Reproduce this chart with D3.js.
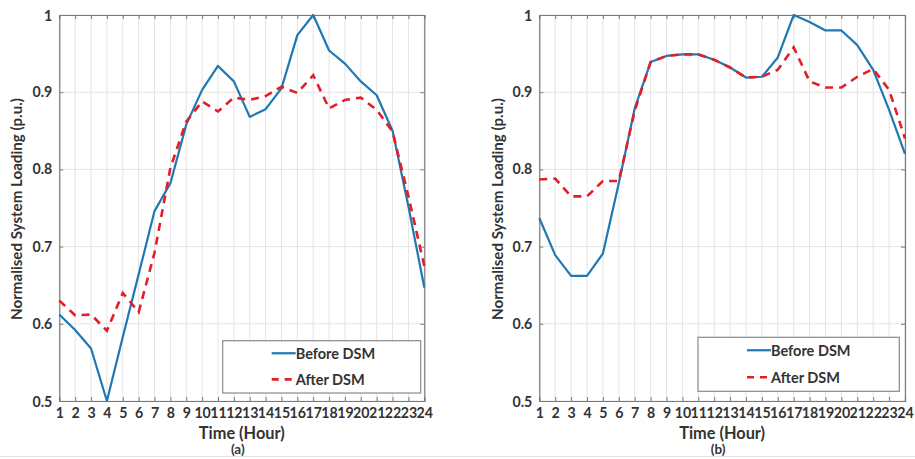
<!DOCTYPE html>
<html>
<head>
<meta charset="utf-8">
<script src="https://cdn.jsdelivr.net/npm/d3@7"></script>
<style>
  body { margin: 0; background: #fff; }
  svg { display: block; font-family: Lato, "Open Sans", sans-serif; }
</style>
</head>
<body>
<svg id="chart" width="915" height="459"></svg>
<script>
// Data
const hours = d3.range(1, 25);
const yTicks = [0.5, 0.6, 0.7, 0.8, 0.9, 1];
const seriesNames = ["Before DSM", "After DSM"];

const beforeA = [0.612, 0.592, 0.568, 0.500, 0.583, 0.664, 0.746, 0.782, 0.858, 0.903, 0.934, 0.914,
  0.868, 0.878, 0.905, 0.974, 1.000, 0.954, 0.937, 0.914, 0.896, 0.850, 0.752, 0.647];
const afterA = [0.630, 0.611, 0.612, 0.591, 0.640, 0.615, 0.692, 0.802, 0.862, 0.888, 0.875, 0.893,
  0.890, 0.895, 0.907, 0.899, 0.922, 0.879, 0.890, 0.893, 0.877, 0.849, 0.765, 0.675];
const beforeB = [0.737, 0.689, 0.662, 0.662, 0.691, 0.782, 0.879, 0.939, 0.947, 0.949, 0.949, 0.942,
  0.932, 0.919, 0.920, 0.945, 1.000, 0.991, 0.980, 0.980, 0.961, 0.929, 0.877, 0.820];
const afterB = [0.787, 0.788, 0.765, 0.765, 0.785, 0.785, 0.876, 0.939, 0.947, 0.949, 0.949, 0.942,
  0.932, 0.919, 0.920, 0.929, 0.958, 0.914, 0.906, 0.906, 0.920, 0.930, 0.903, 0.840];

const panels = [
  { tag: "(a)", before: beforeA, after: afterA, x0: 59.3, x1: 424.3, labelX: 16,
    legend: { x: 222.7, y: 340.7, w: 198, h: 52.3 } },
  { tag: "(b)", before: beforeB, after: afterB, x0: 539.3, x1: 905, labelX: 497,
    legend: { x: 698, y: 337.3, w: 201.3, h: 54 } }
];

const plotTop = 15, plotBottom = 401;
const blue = "#1f78b4", red = "#e31e26";
const axisColor = "#7a7a7a", gridColor = "#e4e4e4", textColor = "#333";

const svg = d3.select("#chart");

// scale a text's font size so its width matches the one
function fitText(sel, width) {
  const len = sel.node().getComputedTextLength();
  const fs = parseFloat(sel.attr("font-size"));
  sel.attr("font-size", fs * width / len);
}

// faint figure border at the bottom
svg.append("line")
  .attr("x1", 0).attr("x2", 915).attr("y1", 456.5).attr("y2", 456.5)
  .attr("stroke", "#e2e2e2").attr("stroke-width", 1);

panels.forEach(p => {
  const x = d3.scaleLinear().domain([1, 24]).range([p.x0, p.x1]);
  const y = d3.scaleLinear().domain([0.5, 1]).range([plotBottom, plotTop]);
  const g = svg.append("g");

  // grid
  g.selectAll(".vgrid").data(hours).enter().append("line")
    .attr("x1", d => x(d)).attr("x2", d => x(d))
    .attr("y1", plotTop).attr("y2", plotBottom)
    .attr("stroke", gridColor).attr("stroke-width", 1);
  g.selectAll(".hgrid").data(yTicks).enter().append("line")
    .attr("x1", p.x0).attr("x2", p.x1)
    .attr("y1", d => y(d)).attr("y2", d => y(d))
    .attr("stroke", gridColor).attr("stroke-width", 1);

  // axes (inward ticks, boxed)
  const xb = g.append("g").attr("transform", `translate(0,${plotBottom})`)
    .call(d3.axisBottom(x).tickValues(hours).tickSize(-4).tickPadding(7).tickFormat(d3.format("d")));
  const xt = g.append("g").attr("transform", `translate(0,${plotTop})`)
    .call(d3.axisTop(x).tickValues(hours).tickSize(-4).tickFormat(""));
  const yl = g.append("g").attr("transform", `translate(${p.x0},0)`)
    .call(d3.axisLeft(y).tickValues(yTicks).tickSize(-4).tickPadding(7)
      .tickFormat(d => d === 1 || d === 0.5 ? d3.format("")(d) : d3.format(".1f")(d)));
  const yr = g.append("g").attr("transform", `translate(${p.x1},0)`)
    .call(d3.axisRight(y).tickValues(yTicks).tickSize(-4).tickFormat(""));

  [xb, xt, yl, yr].forEach(a => {
    a.select(".domain").attr("stroke", axisColor).attr("stroke-width", 1.2);
    a.selectAll(".tick line").attr("stroke", axisColor);
    a.selectAll("text").attr("fill", textColor).attr("font-size", 14.2)
      .attr("font-weight", 700).attr("font-family", "Lato, sans-serif");
  });
  yl.selectAll(".tick text").filter(d => d === 0.5 || d === 1).attr("dy", "0.36em");

  // lines
  const line = d3.line().x((d, i) => x(hours[i])).y(d => y(d));
  g.append("path").datum(p.before)
    .attr("d", line).attr("fill", "none")
    .attr("stroke", blue).attr("stroke-width", 2.2).attr("stroke-linejoin", "round");
  g.append("path").datum(p.after)
    .attr("d", line).attr("fill", "none")
    .attr("stroke", red).attr("stroke-width", 2.6)
    .attr("stroke-dasharray", "8,6");

  // axis titles
  const yTitle = g.append("text")
    .attr("transform", `translate(${p.labelX},209) rotate(-90)`)
    .attr("text-anchor", "middle").attr("dominant-baseline", "central")
    .attr("font-size", 14).attr("font-weight", 700).attr("fill", textColor)
    .text("Normalised System Loading (p.u.)");
  fitText(yTitle, 222);
  const xTitle = g.append("text")
    .attr("x", (p.x0 + p.x1) / 2).attr("y", 432)
    .attr("text-anchor", "middle").attr("dominant-baseline", "central")
    .attr("font-size", 15).attr("font-weight", 700).attr("fill", textColor)
    .text("Time (Hour)");
  fitText(xTitle, 86);
  g.append("text")
    .attr("x", (p.x0 + p.x1) / 2 - 4).attr("y", 449)
    .attr("text-anchor", "middle").attr("dominant-baseline", "central")
    .attr("font-size", 13.5).attr("font-weight", 700).attr("fill", textColor)
    .text(p.tag);

  // legend
  const L = p.legend;
  const lg = g.append("g").attr("transform", `translate(${L.x},${L.y})`);
  lg.append("rect").attr("width", L.w).attr("height", L.h)
    .attr("fill", "#fff").attr("stroke", "#8a8a8a").attr("stroke-width", 1.2);
  const rows = [
    { name: seriesNames[0], color: blue, dash: null, w: 2.2, width: 74 },
    { name: seriesNames[1], color: red, dash: "7,6", w: 2.6, width: 65 }
  ];
  rows.forEach((r, i) => {
    const cy = L.h * (i === 0 ? 0.24 : 0.74);
    lg.append("line")
      .attr("x1", 49).attr("x2", 73).attr("y1", cy).attr("y2", cy)
      .attr("stroke", r.color).attr("stroke-width", r.w)
      .attr("stroke-dasharray", r.dash);
    lg.append("text")
      .attr("x", 73).attr("y", cy)
      .attr("dominant-baseline", "central")
      .attr("font-size", 14.5).attr("font-weight", 700).attr("fill", textColor)
      .text(r.name);
  });
});
</script>
</body>
</html>
